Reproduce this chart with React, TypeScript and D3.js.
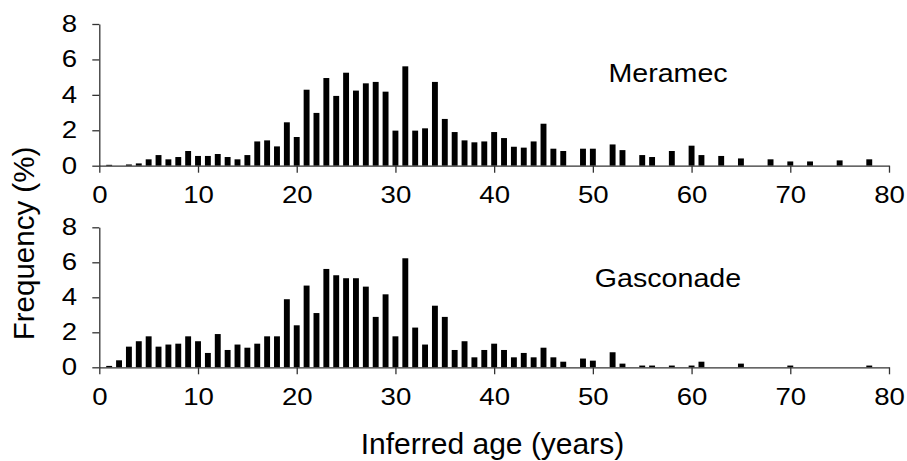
import React, { useEffect, useRef } from 'react';
import * as d3 from 'd3';

// inferred age (years) of each bar
const ages = d3.range(1, 81);

// frequency (%) per age, 0 where no bar
const meramec = [
  0.05, 0, 0.07, 0.13, 0.36, 0.6, 0.36, 0.49, 0.83, 0.55,
  0.55, 0.66, 0.49, 0.36, 0.6, 1.37, 1.43, 1.09, 2.45, 1.62,
  4.29, 2.98, 4.95, 3.94, 5.25, 4.24, 4.65, 4.73, 4.18, 1.98,
  5.61, 1.98, 2.11, 4.73, 2.64, 1.9, 1.43, 1.32, 1.37, 1.9,
  1.56, 1.07, 1.02, 1.37, 2.37, 0.96, 0.83, 0, 0.96, 0.96,
  0, 1.2, 0.88, 0, 0.6, 0.49, 0, 0.83, 0, 1.13,
  0.6, 0, 0.55, 0, 0.41, 0, 0, 0.36, 0, 0.24,
  0, 0.24, 0, 0, 0.3, 0, 0, 0.36, 0, 0,
];

const gasconade = [
  0.08, 0.4, 1.18, 1.49, 1.77, 1.18, 1.3, 1.35, 1.77, 1.49,
  0.82, 1.9, 0.99, 1.3, 1.12, 1.35, 1.77, 1.77, 3.89, 2.4,
  4.67, 3.1, 5.62, 5.26, 5.09, 5.09, 4.61, 2.88, 4.17, 1.77,
  6.23, 2.27, 1.3, 3.52, 2.88, 0.99, 1.49, 0.57, 0.99, 1.35,
  0.99, 0.57, 0.82, 0.57, 1.12, 0.57, 0.32, 0, 0.5, 0.38,
  0, 0.86, 0.21, 0, 0.1, 0.1, 0, 0.1, 0, 0.1,
  0.32, 0, 0, 0, 0.21, 0, 0, 0, 0, 0.1,
  0, 0, 0, 0, 0, 0, 0, 0.1, 0, 0,
];

const xTicks = [0, 10, 20, 30, 40, 50, 60, 70, 80];
const yTicks = [0, 2, 4, 6, 8];

const panels = [
  { name: 'Meramec', values: meramec, top: 24, bottom: 165.7, labelY: 82 },
  { name: 'Gasconade', values: gasconade, top: 227.3, bottom: 367.3, labelY: 287 },
];

const width = 907;
const height = 461;
const font = '"Liberation Sans", Arial, sans-serif';

export default function App() {
  const ref = useRef<SVGSVGElement>(null);

  useEffect(() => {
    const svg = d3.select(ref.current);
    svg.selectAll('*').remove();

    const x = d3.scaleLinear().domain([0, 80]).range([99.3, 889]);
    const barW = 5.9;
    // the original lettering is a bit wider than Arial
    const stretch = 1.2;

    panels.forEach((p) => {
      const y = d3.scaleLinear().domain([0, 8]).range([p.bottom, p.top]);
      const data = ages.map((a, i) => ({ age: a, v: p.values[i] })).filter((d) => d.v > 0);

      svg
        .append('g')
        .attr('fill', '#000')
        .selectAll('rect')
        .data(data)
        .join('rect')
        .attr('x', (d) => x(d.age) - barW / 2)
        .attr('y', (d) => y(d.v))
        .attr('width', barW)
        .attr('height', (d) => y(0) - y(d.v));

      const xAxis = svg
        .append('g')
        .attr('transform', `translate(0,${y(0)})`)
        .call(d3.axisBottom(x).tickValues(xTicks).tickSize(7).tickPadding(14).tickSizeOuter(0));
      xAxis.select('.domain').attr('stroke', '#333').attr('stroke-width', 1.3);
      xAxis.selectAll('.tick line').attr('stroke', '#333').attr('stroke-width', 1.3);
      xAxis
        .selectAll('.tick text')
        .attr('font-family', font)
        .attr('font-size', 23)
        .attr('fill', '#000')
        .attr('transform', `scale(${stretch},1)`);

      const yAxis = svg
        .append('g')
        .attr('transform', `translate(${x(0)},0)`)
        .call(d3.axisLeft(y).tickValues(yTicks).tickSize(7).tickPadding(11.5).tickSizeOuter(0));
      yAxis.select('.domain').attr('stroke', '#333').attr('stroke-width', 1.3);
      yAxis.selectAll('.tick line').attr('stroke', '#333').attr('stroke-width', 1.3);
      yAxis
        .selectAll('.tick text')
        .attr('font-family', font)
        .attr('font-size', 23)
        .attr('fill', '#000')
        .attr('transform', `scale(${stretch},1)`);

      svg
        .append('text')
        .attr('transform', `translate(668,${p.labelY}) scale(1.1,1)`)
        .attr('text-anchor', 'middle')
        .attr('font-family', font)
        .attr('font-size', 26)
        .text(p.name);
    });

    svg
      .append('text')
      .attr('transform', 'translate(33.5,243.5) rotate(-90)')
      .attr('text-anchor', 'middle')
      .attr('font-family', font)
      .attr('font-size', 29.5)
      .text('Frequency (%)');

    svg
      .append('text')
      .attr('x', 492.5)
      .attr('y', 454)
      .attr('text-anchor', 'middle')
      .attr('font-family', font)
      .attr('font-size', 30)
      .text('Inferred age (years)');
  }, []);

  return (
    <svg
      ref={ref}
      width={width}
      height={height}
      style={{ position: 'absolute', left: 0, top: 0, background: '#fff' }}
    />
  );
}
